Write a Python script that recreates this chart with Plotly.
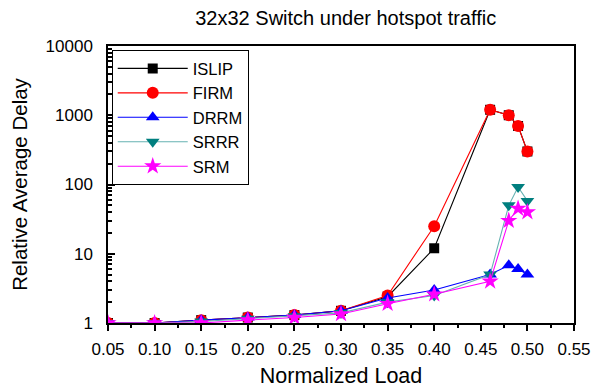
import plotly.graph_objects as go

load = [0.05, 0.10, 0.15, 0.20, 0.25, 0.30, 0.35, 0.40, 0.46, 0.48, 0.49, 0.50]
islip = [1.0, 1.0, 1.1, 1.2, 1.3, 1.5, 2.4, 12, 1200, 1000, 700, 300]
firm = [1.0, 1.0, 1.1, 1.2, 1.3, 1.5, 2.5, 25, 1200, 1000, 700, 300]
drrm = [1.0, 1.0, 1.1, 1.2, 1.3, 1.5, 2.3, 3.0, 5.0, 6.8, 6.0, 5.0]
srrr = [1.0, 1.0, 1.05, 1.15, 1.25, 1.4, 2.0, 2.5, 5.0, 50, 92, 58]
srm = [1.0, 1.0, 1.0, 1.1, 1.2, 1.35, 1.9, 2.6, 4.0, 30, 45, 40]

x_ticks = [0.05, 0.10, 0.15, 0.20, 0.25, 0.30, 0.35, 0.40, 0.45, 0.50, 0.55]
y_ticks = [1, 10, 100, 1000, 10000]

FONT = "Arial, Liberation Sans, sans-serif"

series = [
    ("ISLIP", islip, "black", "black", "square", 10),
    ("FIRM", firm, "red", "red", "circle", 12),
    ("DRRM", drrm, "blue", "blue", "triangle-up", 12),
    ("SRRR", srrr, "#66b2b2", "#007f7f", "triangle-down", 12),
    ("SRM", srm, "magenta", "magenta", "star", 13),
]

fig = go.Figure()
for name, vals, lc, mc, sym, sz in series:
    fig.add_trace(go.Scatter(
        x=load, y=vals, name=name, mode="lines+markers",
        line=dict(color=lc, width=1.1),
        marker=dict(symbol=sym, size=sz, color=mc, line=dict(width=0)),
    ))

minor_y = [m * 10 ** e for e in range(0, 4) for m in range(2, 10)]

fig.update_layout(
    width=593, height=390,
    margin=dict(l=108, r=19, t=46, b=67),
    paper_bgcolor="white", plot_bgcolor="white",
    font=dict(family=FONT, color="black", size=17),
    title=dict(text="32x32 Switch under hotspot traffic", x=0.583, xanchor="center",
               y=0.955, yanchor="middle", font=dict(size=20, family=FONT)),
    showlegend=True,
    legend=dict(x=0.008, y=0.985, xanchor="left", yanchor="top",
                bordercolor="black", borderwidth=1, bgcolor="white",
                font=dict(size=16.5, family=FONT), itemwidth=70,
                tracegroupgap=0),
)
fig.update_xaxes(
    range=[0.05, 0.55], tickvals=x_ticks, ticktext=[f"{v:.2f}" for v in x_ticks],
    showgrid=False, zeroline=False, showline=True, linecolor="black", linewidth=1.5,
    mirror=True, ticks="outside", ticklen=6, tickwidth=1.5, tickcolor="black",
    minor=dict(dtick=0.025, tick0=0.05, ticks="outside", ticklen=3, tickcolor="black", showgrid=False),
    title=dict(text="Normalized Load", font=dict(size=21.5, family=FONT), standoff=10),
    tickfont=dict(size=17), ticklabelstandoff=4, automargin=False,
)
fig.update_yaxes(
    type="log", range=[0, 4], tickvals=y_ticks, ticktext=[str(v) for v in y_ticks],
    showgrid=False, zeroline=False, showline=True, linecolor="black", linewidth=1.5,
    mirror=True, ticks="inside", ticklen=7, tickwidth=1.5, tickcolor="black",
    minor=dict(tickvals=minor_y, ticks="inside", ticklen=4, tickcolor="black", showgrid=False),
    title=dict(text="Relative Average Delay", font=dict(size=20.5, family=FONT), standoff=12),
    tickfont=dict(size=17), ticklabelstandoff=10, automargin=False,
)

fig.write_html("out.html")
